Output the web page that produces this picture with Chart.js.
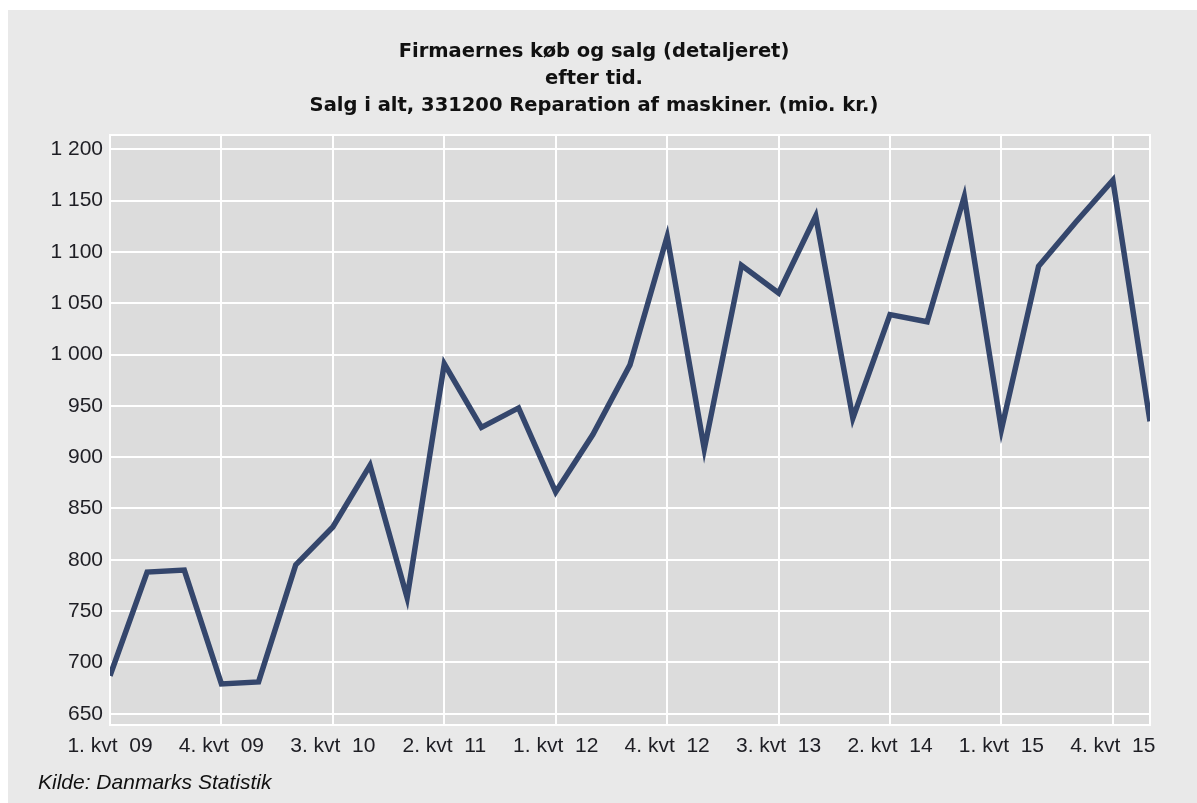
<!DOCTYPE html>
<html>
<head>
<meta charset="utf-8">
<script src="https://cdn.jsdelivr.net/npm/chart.js@4.4.1/dist/chart.umd.min.js"></script>
<style>
  html, body { margin: 0; padding: 0; background: #ffffff; }
  #wrap { width: 1197px; height: 803px; }
</style>
</head>
<body>
<div id="wrap"><canvas id="c" width="1197" height="803"></canvas></div>
<script>
const quarters = [
  "1. kvt  09","2. kvt  09","3. kvt  09","4. kvt  09",
  "1. kvt  10","2. kvt  10","3. kvt  10","4. kvt  10",
  "1. kvt  11","2. kvt  11","3. kvt  11","4. kvt  11",
  "1. kvt  12","2. kvt  12","3. kvt  12","4. kvt  12",
  "1. kvt  13","2. kvt  13","3. kvt  13","4. kvt  13",
  "1. kvt  14","2. kvt  14","3. kvt  14","4. kvt  14",
  "1. kvt  15","2. kvt  15","3. kvt  15","4. kvt  15",
  "1. kvt  16"
];
const salesValues = [
  687, 788, 790, 679,
  681, 795, 832, 892,
  763, 991, 929, 948,
  866, 922, 990, 1115,
  908, 1087, 1060, 1135,
  938, 1039, 1032, 1154,
  927, 1086, 1129, 1170,
  935
];
const titleLines = [
  "Firmaernes køb og salg (detaljeret)",
  "efter tid.",
  "Salg i alt, 331200 Reparation af maskiner. (mio. kr.)"
];
const sourceNote = "Kilde: Danmarks Statistik";
const yMin = 639, yMax = 1214, yStep = 50;
const xLabelEvery = 3;

const bgPlugin = {
  id: 'bgPlugin',
  beforeDraw(chart) {
    const ctx = chart.ctx;
    const a = chart.chartArea;
    ctx.save();
    ctx.fillStyle = '#ffffff';
    ctx.fillRect(0, 0, chart.width, chart.height);
    ctx.fillStyle = '#e9e9e9';
    ctx.fillRect(8, 10, chart.width - 8, chart.height - 10);
    ctx.fillStyle = '#dcdcdc';
    ctx.fillRect(a.left, a.top, a.right - a.left, a.bottom - a.top);
    ctx.restore();
  },
  beforeDatasetsDraw(chart) {
    const ctx = chart.ctx;
    const a = chart.chartArea;
    ctx.save();
    ctx.strokeStyle = '#ffffff';
    ctx.lineWidth = 2;
    ctx.strokeRect(a.left, a.top, a.right - a.left, a.bottom - a.top);
    ctx.restore();
  }
};

function fmtThousands(v) {
  return String(v).replace(/\B(?=(\d{3})+(?!\d))/g, ' ');
}

new Chart(document.getElementById('c'), {
  type: 'line',
  data: {
    labels: quarters,
    datasets: [{
      data: salesValues,
      borderColor: '#34466c',
      borderWidth: 5.5,
      borderJoinStyle: 'miter',
      pointRadius: 0,
      tension: 0,
      fill: false,
      clip: 0
    }]
  },
  options: {
    responsive: false,
    animation: false,
    devicePixelRatio: 1,
    layout: { padding: { left: 38, right: 47, top: 0, bottom: 0 } },
    plugins: {
      legend: { display: false },
      tooltip: { enabled: false },
      title: {
        display: true,
        text: titleLines,
        color: '#111111',
        font: { family: '"DejaVu Sans"', weight: 'bold', size: 19.5, lineHeight: 27 / 19.5 },
        padding: { top: 38, bottom: 16 }
      },
      subtitle: {
        display: true,
        text: sourceNote,
        position: 'bottom',
        align: 'start',
        color: '#111111',
        font: { family: '"Liberation Sans", Arial, sans-serif', style: 'italic', size: 21, lineHeight: 1.2 },
        padding: { top: 9.4, bottom: 7.4 }
      }
    },
    scales: {
      x: {
        afterFit(scale) { scale.height = 36; },
        grid: {
          drawTicks: false,
          lineWidth: 2,
          color: (ctx) => (ctx.index % xLabelEvery === 0 ? '#ffffff' : 'rgba(0,0,0,0)')
        },
        border: { display: false },
        ticks: {
          autoSkip: false,
          maxRotation: 0,
          minRotation: 0,
          padding: 9,
          color: '#1e1e24',
          font: { family: '"Liberation Sans", Arial, sans-serif', size: 21 },
          callback: function (value, index) {
            return index % xLabelEvery === 0 ? quarters[index] : '';
          }
        }
      },
      y: {
        min: yMin,
        max: yMax,
        afterFit(scale) { scale.width = 72; },
        grid: { drawTicks: false, lineWidth: 2, color: '#ffffff' },
        border: { display: false },
        ticks: {
          stepSize: yStep,
          includeBounds: false,
          padding: 7,
          color: '#1e1e24',
          font: { family: '"Liberation Sans", Arial, sans-serif', size: 21 },
          callback: (v) => fmtThousands(v)
        }
      }
    }
  },
  plugins: [bgPlugin]
});
</script>
</body>
</html>
